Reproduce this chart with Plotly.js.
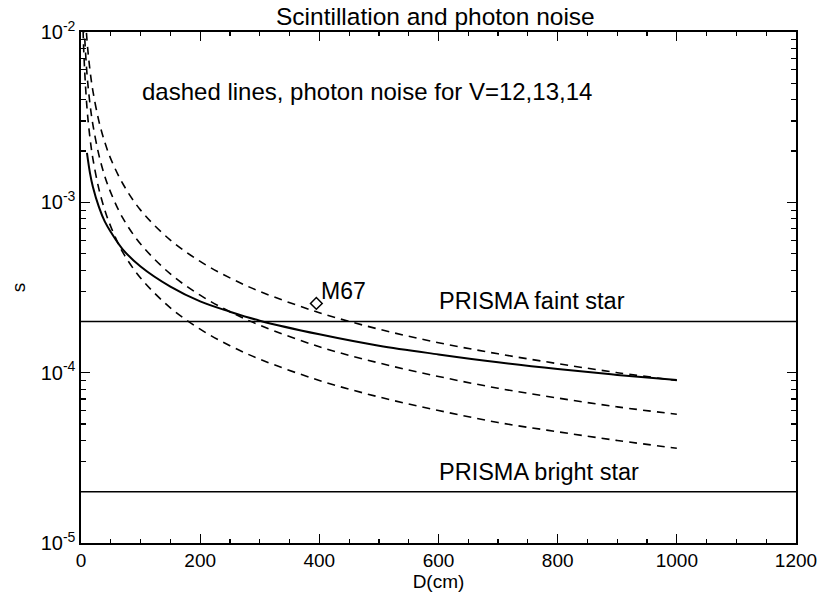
<!DOCTYPE html>
<html>
<head>
<meta charset="utf-8">
<script src="https://cdn.plot.ly/plotly-3.0.1.min.js"></script>
<style>html,body{margin:0;padding:0;background:#fff;}#chart{width:823px;height:594px;}</style>
</head>
<body>
<div id="chart"></div>
<script>
// Aperture D (cm) for the scintillation curve
const dScint = [10, 15, 20, 30, 40, 50, 70, 100, 150, 200, 250, 300, 400, 500, 600, 700, 800, 900, 1000];
const sScint = [1.95e-3, 1.49e-3, 1.23e-3, 9.4e-4, 7.7e-4, 6.7e-4, 5.3e-4, 4.2e-4, 3.2e-4, 2.62e-4, 2.28e-4, 2.02e-4, 1.68e-4, 1.44e-4, 1.28e-4, 1.15e-4, 1.05e-4, 9.7e-5, 9.05e-5];

// Aperture D (cm) for the photon-noise curves
const dPhot = [2, 3, 5, 10, 15, 20, 30, 40, 50, 70, 100, 150, 200, 250, 300, 400, 500, 600, 700, 800, 900, 1000];
const sPhotV14 = [4.5e-2, 3.0e-2, 1.8e-2, 9.0e-3, 6.0e-3, 4.5e-3, 3.0e-3, 2.25e-3, 1.8e-3, 1.29e-3, 9.0e-4, 6.0e-4, 4.5e-4, 3.6e-4, 3.0e-4, 2.25e-4, 1.8e-4, 1.5e-4, 1.29e-4, 1.13e-4, 1.0e-4, 9.0e-5];
const sPhotV13 = [2.85e-2, 1.9e-2, 1.14e-2, 5.7e-3, 3.8e-3, 2.85e-3, 1.9e-3, 1.42e-3, 1.14e-3, 8.1e-4, 5.7e-4, 3.8e-4, 2.85e-4, 2.28e-4, 1.9e-4, 1.42e-4, 1.14e-4, 9.5e-5, 8.1e-5, 7.1e-5, 6.3e-5, 5.7e-5];
const sPhotV12 = [1.8e-2, 1.2e-2, 7.2e-3, 3.6e-3, 2.4e-3, 1.8e-3, 1.2e-3, 9.0e-4, 7.2e-4, 5.1e-4, 3.6e-4, 2.4e-4, 1.8e-4, 1.44e-4, 1.2e-4, 9.0e-5, 7.2e-5, 6.0e-5, 5.1e-5, 4.5e-5, 4.0e-5, 3.6e-5];

// PRISMA requirement levels
const prismaX = [0, 1200];
const prismaFaint = [2.0e-4, 2.0e-4];
const prismaBright = [2.0e-5, 2.0e-5];

// M67 measurement
const m67X = [395];
const m67Y = [2.55e-4];

// Tick labels
const yTickVals = [1e-5, 1e-4, 1e-3, 1e-2];
const yTickText = ['10<sup>-5</sup>', '10<sup>-4</sup>', '10<sup>-3</sup>', '10<sup>-2</sup>'];
const yMinorVals = [2e-5,3e-5,4e-5,5e-5,6e-5,7e-5,8e-5,9e-5,2e-4,3e-4,4e-4,5e-4,6e-4,7e-4,8e-4,9e-4,2e-3,3e-3,4e-3,5e-3,6e-3,7e-3,8e-3,9e-3];

const FONT = 'Liberation Sans, Arial, Helvetica, sans-serif';
const dashStyle = '8px,6px';

const traces = [
  {x: dScint, y: sScint, mode: 'lines', line: {color: '#000', width: 2, shape: 'spline'}},
  {x: dPhot, y: sPhotV14, mode: 'lines', line: {color: '#000', width: 1.6, dash: dashStyle, shape: 'spline'}},
  {x: dPhot, y: sPhotV13, mode: 'lines', line: {color: '#000', width: 1.6, dash: dashStyle, shape: 'spline'}},
  {x: dPhot, y: sPhotV12, mode: 'lines', line: {color: '#000', width: 1.6, dash: dashStyle, shape: 'spline'}},
  {x: prismaX, y: prismaFaint, mode: 'lines', line: {color: '#000', width: 1.5}},
  {x: prismaX, y: prismaBright, mode: 'lines', line: {color: '#000', width: 1.5}},
  {x: m67X, y: m67Y, mode: 'markers', marker: {symbol: 'diamond-open', size: 9, color: '#000', line: {width: 1.5, color: '#000'}}}
];

const layout = {
  width: 823, height: 594,
  margin: {l: 81, r: 27, t: 32, b: 51},
  paper_bgcolor: '#fff', plot_bgcolor: '#fff',
  showlegend: false,
  font: {family: FONT, color: '#000', size: 19},
  title: {text: 'Scintillation and photon noise', font: {family: FONT, size: 24.5, color: '#000'}, x: 0.529, xanchor: 'center', y: 0.972, yanchor: 'middle'},
  xaxis: {
    range: [0, 1200], dtick: 200, tick0: 0,
    ticks: 'inside', ticklen: 9, tickwidth: 1.3, tickcolor: '#000',
    minor: {dtick: 50, ticks: 'inside', ticklen: 4, tickwidth: 1.2, tickcolor: '#000'},
    showline: true, linecolor: '#000', linewidth: 1.6, mirror: 'ticks',
    showgrid: false, zeroline: false,
    tickfont: {family: FONT, size: 19, color: '#000'},
    title: {text: 'D(cm)', font: {family: FONT, size: 19, color: '#000'}, standoff: 4}
  },
  yaxis: {
    type: 'log', range: [-5, -2],
    tickmode: 'array', tickvals: yTickVals, ticktext: yTickText,
    ticks: 'inside', ticklen: 9, tickwidth: 1.3, tickcolor: '#000',
    minor: {tickmode: 'array', tickvals: yMinorVals, ticks: 'inside', ticklen: 5, tickwidth: 1.2, tickcolor: '#000'},
    showline: true, linecolor: '#000', linewidth: 1.6, mirror: 'ticks',
    showgrid: false, zeroline: false,
    tickfont: {family: FONT, size: 20, color: '#000'},
    title: {text: 's', font: {family: FONT, size: 19, color: '#000'}, standoff: 10}
  },
  annotations: [
    {x: 99, y: -2.352, xref: 'x', yref: 'y', text: 'dashed lines, photon noise for V=12,13,14', showarrow: false, xanchor: 'left', yanchor: 'middle', font: {family: FONT, size: 24, color: '#000'}},
    {x: 598, y: -3.58, xref: 'x', yref: 'y', text: 'PRISMA faint star', showarrow: false, xanchor: 'left', yanchor: 'middle', font: {family: FONT, size: 23.5, color: '#000'}},
    {x: 598, y: -4.585, xref: 'x', yref: 'y', text: 'PRISMA bright star', showarrow: false, xanchor: 'left', yanchor: 'middle', font: {family: FONT, size: 23.5, color: '#000'}},
    {x: 399, y: -3.52, xref: 'x', yref: 'y', text: 'M67', showarrow: false, xanchor: 'left', yanchor: 'middle', font: {family: FONT, size: 23, color: '#000'}}
  ]
};

Plotly.newPlot('chart', traces, layout, {displayModeBar: false, staticPlot: true});
</script>
</body>
</html>
